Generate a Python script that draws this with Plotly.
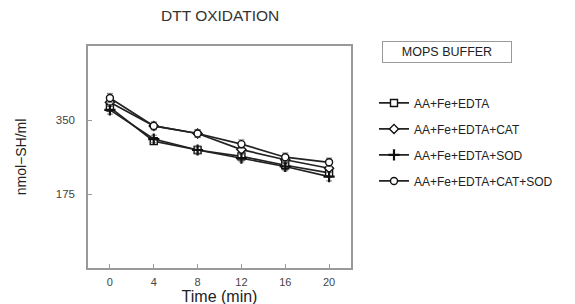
import plotly.graph_objects as go

time_min = [0, 4, 8, 12, 16, 20]
series_names = ["AA+Fe+EDTA", "AA+Fe+EDTA+CAT", "AA+Fe+EDTA+SOD", "AA+Fe+EDTA+CAT+SOD"]
edta = [380, 300, 279, 264, 243, 225]
edta_cat = [392, 336, 318, 280, 256, 236]
edta_sod = [374, 305, 279, 260, 240, 216]
edta_cat_sod = [402, 336, 318, 293, 262, 250]
err_edta = [10, 8, 9, 9, 10, 10]
err_edta_cat = [10, 9, 9, 9, 10, 10]
err_edta_sod = [10, 9, 9, 9, 10, 10]
err_edta_cat_sod = [11, 9, 9, 10, 10, 10]
y_ticks = [175, 350]
x_ticks = [0, 4, 8, 12, 16, 20]

values = [edta, edta_cat, edta_sod, edta_cat_sod]
errors = [err_edta, err_edta_cat, err_edta_sod, err_edta_cat_sod]
symbols = ["square", "diamond", "cross-thin", "circle"]
sizes = [7, 7, 8, 7]

fig = go.Figure()
for i, (name, v, e) in enumerate(zip(series_names, values, errors)):
    is_cross = symbols[i] == "cross-thin"
    fig.add_trace(go.Scatter(
        x=time_min, y=v, name=name, mode="lines+markers",
        legendgroup=str(i),
        line=dict(color="#222222", width=1.7),
        marker=dict(symbol=symbols[i], size=sizes[i], color="white",
                    line=dict(color="#111111", width=2.2 if is_cross else 1.4)),
        error_y=dict(type="data", array=e, color="#777777", thickness=1, width=3),
    ))

pw = 575 - 80 - 232
ph = 304 - 38 - 41
def px_to_paper(px, py):
    return (px - 80) / pw, (304 - 41 - py) / ph

lx, ly = px_to_paper(366, 81)
bx, by = px_to_paper(439, 44)

font_family = "Liberation Sans, Arial, sans-serif"
fig.update_layout(
    width=575, height=304,
    margin=dict(l=80, r=232, t=38, b=41),
    paper_bgcolor="white", plot_bgcolor="white",
    font=dict(family=font_family, color="#333333", size=11),
    showlegend=True,
    legend=dict(x=lx, y=ly, xanchor="left", yanchor="top",
                font=dict(size=12, color="#222222"), tracegroupgap=7,
                bgcolor="rgba(0,0,0,0)", itemwidth=30),
    xaxis=dict(range=[-2, 22], tickvals=x_ticks, ticks="inside", ticklen=4,
               tickcolor="#999999", showgrid=False, zeroline=False,
               showline=True, linecolor="#999999", linewidth=1.5, mirror=True,
               tickfont=dict(size=11, color="#444444"), ticklabelstandoff=3,
               title=dict(text="Time (min)", font=dict(size=16, color="#222222"), standoff=1)),
    yaxis=dict(range=[0, 525], tickvals=y_ticks, ticks="inside", ticklen=4,
               tickcolor="#999999", showgrid=False, zeroline=False,
               showline=True, linecolor="#999999", linewidth=1.5, mirror=True,
               tickfont=dict(size=11.5, color="#444444"), ticklabelstandoff=9,
               title=dict(text="nmol\u2212SH/ml", font=dict(size=14, color="#222222"), standoff=26)),
    annotations=[
        dict(text="DTT OXIDATION", x=0.5, y=1, xref="paper", yref="paper",
             xanchor="center", yanchor="bottom", yshift=20, showarrow=False,
             font=dict(size=15.5, color="#333333")),
        dict(text="MOPS BUFFER", x=bx, y=by, xref="paper", yref="paper",
             xanchor="center", yanchor="middle", showarrow=False,
             bordercolor="#999999", borderwidth=1, borderpad=3, width=122,
             font=dict(size=12.5, color="#222222")),
    ],
)
fig.write_html("out.html")
